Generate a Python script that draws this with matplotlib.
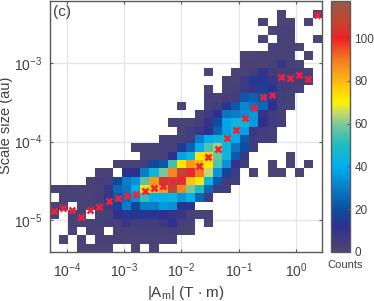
import numpy as np
import matplotlib
matplotlib.use("Agg")
import matplotlib.pyplot as plt
from matplotlib.colors import LinearSegmentedColormap

plt.rcParams["font.family"] = ["Liberation Sans", "DejaVu Sans"]
plt.rcParams["mathtext.fontset"] = "custom"
plt.rcParams["mathtext.rm"] = "Liberation Sans"
plt.rcParams["mathtext.default"] = "regular"

TXT = "#404040"
EDGE = "#595959"

# log10 limits of the histogram
X_LOG = (-4.3, 0.45)
Y_LOG = (-5.4, -2.22)

# counts per bin, top row first, 0 = empty bin
COUNTS = [
    [0]*30,
    [0]*25 + [1, 0, 0, 0, 1],
    [0]*23 + [1, 0, 1, 1, 0, 1, 0],
    [0]*24 + [1, 2, 2, 0, 0, 0],
    [0]*23 + [1, 0, 2, 2, 0, 0, 1],
    [0]*24 + [2, 2, 2, 1, 0, 0],
    [0]*21 + [1, 1, 2, 2, 2, 2, 0, 1, 0],
    [0]*21 + [2, 2, 2, 3, 8, 3, 2, 0, 0],
    [0]*17 + [1, 0, 0, 2, 2, 4, 10, 5, 4, 5, 4, 3, 0],
    [0]*19 + [2, 2, 6, 15, 15, 8, 5, 4, 4, 3, 0],
    [0]*17 + [1, 0, 2, 3, 7, 9, 16, 13, 5, 4, 3, 0, 0],
    [0]*17 + [2, 2, 4, 5, 22, 24, 21, 15, 4, 3, 0, 0, 0],
    [0]*14 + [1, 0, 0, 3, 5, 14, 22, 32, 28, 26, 12, 3, 3, 0, 0, 0],
    [0]*16 + [3, 6, 12, 28, 30, 33, 36, 10, 6, 4, 0, 0, 0, 0],
    [0]*13 + [2, 2, 2, 4, 10, 20, 38, 44, 45, 36, 12, 6, 4, 0, 0, 0, 0],
    [0]*14 + [2, 5, 8, 12, 24, 38, 44, 38, 7, 5, 4, 0, 0, 0, 0, 0],
    [0]*12 + [3, 3, 3, 5, 30, 40, 44, 47, 40, 22, 6, 4, 4, 0, 0, 0, 0, 0],
    [0]*9 + [2, 2, 2, 3, 3, 15, 24, 40, 55, 62, 44, 28, 20, 6, 0, 0, 0, 0, 0, 0, 0],
    [0]*10 + [2, 2, 3, 12, 38, 44, 72, 75, 58, 44, 22, 8, 0, 0, 0, 0, 1, 0, 0, 0],
    [0]*7 + [2, 2, 2, 5, 18, 22, 54, 72, 85, 80, 72, 55, 34, 10, 5, 0, 0, 1, 0, 1, 0, 1, 0],
    [0]*5 + [2, 2, 0, 12, 12, 30, 44, 60, 88, 110, 103, 90, 65, 35, 18, 6, 0, 1, 0, 1, 1, 0, 1, 0, 0],
    [0]*4 + [2, 4, 3, 18, 30, 34, 56, 85, 105, 108, 105, 78, 72, 44, 22, 6, 5, 0, 0, 0, 0, 0, 0, 0, 0, 0],
    [2, 2, 2, 2, 2, 3, 8, 26, 28, 40, 72, 80, 85, 110, 88, 60, 50, 25, 6, 5] + [0]*10,
    [0, 2, 2, 2, 2, 4, 10, 22, 26, 34, 52, 42, 42, 44, 35, 42, 25, 6] + [0]*12,
    [2, 2, 0, 2, 2, 3, 6, 16, 30, 18, 30, 30, 36, 34, 13, 13] + [0]*14,
    [2, 0, 2, 2, 0, 2, 3, 12, 14, 14, 14, 14, 12, 10, 8, 3, 2, 2] + [0]*12,
    [0, 0, 2, 2, 2, 3, 4, 4, 8, 4, 5, 5, 7, 12, 4, 2, 0, 1] + [0]*12,
    [0, 0, 1, 0, 2, 2, 0, 2, 3, 3, 3, 3, 3, 4, 2, 1] + [0]*14,
    [0, 1, 0, 1, 0, 2, 2, 2, 2, 2, 2, 2, 2, 2] + [0]*16,
    [0, 0, 0, 1, 1, 1, 1, 0, 0, 1, 0, 1] + [0]*18,
]

# median scale size per |A_m| bin (red crosses)
MEDIAN_SIZE = [
    1.30e-5, 1.44e-5, 1.35e-5, 1.10e-5, 1.34e-5, 1.50e-5, 1.77e-5, 1.90e-5, 2.04e-5, 2.16e-5,
    2.38e-5, 2.57e-5, 2.75e-5, 3.06e-5, 3.48e-5, 4.02e-5, 4.92e-5, 6.31e-5, 8.09e-5, 1.12e-4,
    1.42e-4, 2.00e-4, 2.65e-4, 3.65e-4, 3.90e-4, 6.53e-4, 6.35e-4, 7.05e-4, 6.17e-4, 3.98e-3,
]

XTICKS = [1e-4, 1e-3, 1e-2, 1e-1, 1e0]
YTICKS = [1e-5, 1e-4, 1e-3]
CBAR_TICKS = [0, 20, 40, 60, 80, 100]
VMAX = 117.3

CMAP_COLORS = [
    (0.00, "#4e4672"), (0.102, "#2e2f8f"), (0.17, "#0b4fa0"), (0.256, "#0a7ec8"),
    (0.341, "#00aeef"), (0.426, "#20bcc0"), (0.51, "#7ac79c"), (0.554, "#c5d96a"),
    (0.597, "#fff200"), (0.682, "#fdb913"), (0.767, "#f47b20"), (0.853, "#ee2024"),
    (0.912, "#c9402f"), (1.00, "#985a48"),
]
cmap = LinearSegmentedColormap.from_list("counts", CMAP_COLORS)
cmap.set_bad("none")

W, H = 374, 301


def box(x0, y0, x1, y1):
    # pixel box, y measured from the top
    return [x0 / W, 1 - y1 / H, (x1 - x0) / W, (y1 - y0) / H]


def main():
    fig = plt.figure(figsize=(W / 100, H / 100), dpi=100)
    ax = fig.add_axes(box(49.5, 1.2, 322, 252))
    cax = fig.add_axes(box(330.5, 1.2, 349.5, 252))

    counts = np.array(COUNTS, dtype=float)[::-1]
    x_edges = np.logspace(X_LOG[0], X_LOG[1], 31)
    y_edges = np.logspace(Y_LOG[0], Y_LOG[1], 31)
    centers = np.sqrt(x_edges[:-1] * x_edges[1:])

    mesh = ax.pcolormesh(x_edges, y_edges, np.ma.masked_equal(counts, 0),
                         cmap=cmap, vmin=0, vmax=VMAX, linewidth=0, zorder=2)
    ax.plot(centers, MEDIAN_SIZE, ls="none", marker="x", color="#ee2238",
            ms=4.4, mew=1.9, zorder=3)

    ax.set_xscale("log")
    ax.set_yscale("log")
    ax.set_xlim(10 ** X_LOG[0], 10 ** X_LOG[1])
    ax.set_ylim(10 ** Y_LOG[0], 10 ** Y_LOG[1])
    ax.set_xticks(XTICKS)
    ax.set_yticks(YTICKS)
    ax.set_xticklabels(["$10^{%d}$" % round(np.log10(t)) for t in XTICKS])
    ax.set_yticklabels(["$10^{%d}$" % round(np.log10(t)) for t in YTICKS])
    ax.minorticks_off()
    ax.grid(True, color="#e6e6e6", lw=1.0, zorder=0)
    ax.set_axisbelow(True)
    ax.tick_params(which="major", direction="in", length=2.5, width=0.8, top=True, right=True,
                   color=EDGE, labelcolor=TXT, labelsize=10)
    ax.tick_params(axis="x", pad=6.5)
    ax.tick_params(axis="y", pad=5)
    for s in ax.spines.values():
        s.set_color(EDGE)
        s.set_linewidth(1.0)
        s.set_zorder(5)
    ax.set_xlabel(r"$|A_m|$ (T $\cdot$ m)", fontsize=11, color=TXT, labelpad=3)
    ax.set_ylabel("Scale size (au)", fontsize=10.5, color=TXT)
    ax.yaxis.set_label_coords(-36 / 272.5, 0.505)
    ax.text(0.012, 0.985, "(c)", transform=ax.transAxes, ha="left", va="top",
            fontsize=11, color=TXT)

    cb = fig.colorbar(mesh, cax=cax)
    cb.set_ticks(CBAR_TICKS)
    cax.tick_params(direction="in", length=2.5, width=0.8, color=EDGE, labelcolor=TXT,
                    labelsize=8.5, pad=3.5)
    cb.outline.set_edgecolor(EDGE)
    cb.outline.set_linewidth(1.0)
    fig.text(345.3 / W, 1 - 265 / H, "Counts", ha="center", va="center", fontsize=8, color=TXT)

    fig.savefig("out.png", dpi=100)


if __name__ == "__main__":
    main()
